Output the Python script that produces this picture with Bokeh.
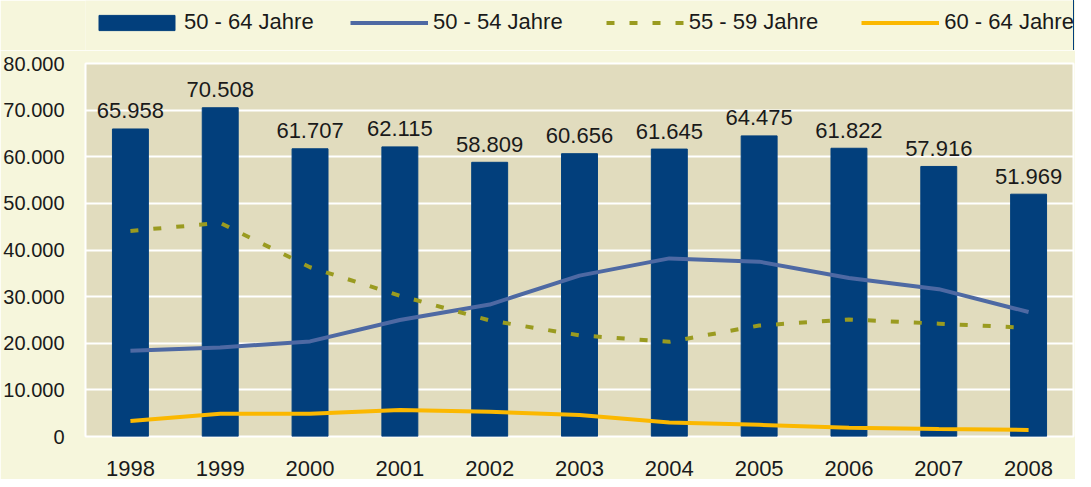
from bokeh.plotting import figure
from bokeh.models import ColumnDataSource, FixedTicker, Legend, LegendItem
from bokeh.layouts import column
from bokeh.embed import file_html
from bokeh.resources import INLINE
from bokeh.core.properties import value

years = [1998, 1999, 2000, 2001, 2002, 2003, 2004, 2005, 2006, 2007, 2008]
total_50_64 = [65958, 70508, 61707, 62115, 58809, 60656, 61645, 64475, 61822, 57916, 51969]
age_50_54 = [18400, 19100, 20400, 25000, 28300, 34500, 38200, 37500, 34000, 31600, 26700]
age_55_59 = [44100, 45800, 36300, 30200, 24900, 21700, 20300, 23800, 25100, 24200, 23300]
age_60_64 = [3300, 4900, 4900, 5700, 5300, 4600, 3000, 2500, 1900, 1600, 1400]
series_names = ["50 - 64 Jahre", "50 - 54 Jahre", "55 - 59 Jahre", "60 - 64 Jahre"]
y_ticks = [0, 10000, 20000, 30000, 40000, 50000, 60000, 70000, 80000]
y_tick_labels = ["0", "10.000", "20.000", "30.000", "40.000", "50.000", "60.000", "70.000", "80.000"]

FONT = "Liberation Sans"
TEXT_COLOR = "#1A1A1A"
PAGE_BG = "#F6F6DC"
PLOT_BG = "#E1DCBE"
BAR_COLOR = "#023F7C"
C_5054 = "#4E69A3"
C_5559 = "#9A9B20"
C_6064 = "#FBB800"

src = ColumnDataSource(dict(
    year=years,
    total=total_50_64,
    a=age_50_54,
    b=age_55_59,
    c=age_60_64,
    label=[f"{v:,}".replace(",", ".") for v in total_50_64],
))


def draw_series(fig):
    r_bar = fig.vbar(x="year", top="total", width=0.4, bottom=0, color=BAR_COLOR, source=src)
    r1 = fig.line("year", "a", source=src, line_color=C_5054, line_width=4)
    r2 = fig.line("year", "b", source=src, line_color=C_5559, line_width=4, line_dash="8 15")
    r3 = fig.line("year", "c", source=src, line_color=C_6064, line_width=4)
    return r_bar, r1, r2, r3


# ---- main chart ----
p = figure(width=1075, height=429, x_range=(1997.5, 2008.5), y_range=(0, 80000),
           output_backend="svg", toolbar_location=None,
           min_border_left=79, min_border_right=2, min_border_top=13, min_border_bottom=43)
p.background_fill_color = PLOT_BG
p.border_fill_color = PAGE_BG
p.outline_line_color = "white"
p.outline_line_width = 2

draw_series(p)

p.text(x="year", y="total", text="label", source=src, text_align="center",
       text_baseline="alphabetic", y_offset=-18, text_font=value(FONT),
       text_font_size="22px", text_color=TEXT_COLOR)

p.xgrid.grid_line_color = None
p.ygrid.grid_line_color = "white"
p.ygrid.grid_line_width = 2
p.yaxis.ticker = FixedTicker(ticks=y_ticks)
p.yaxis.major_label_overrides = {t: s for t, s in zip(y_ticks, y_tick_labels)}
p.xaxis.ticker = FixedTicker(ticks=years)

for ax in (p.xaxis, p.yaxis):
    ax.axis_line_color = None
    ax.major_tick_line_color = None
    ax.minor_tick_line_color = None
    ax.major_label_text_font = FONT
    ax.major_label_text_color = TEXT_COLOR
p.yaxis.major_label_text_font_size = "20px"
p.yaxis.major_label_standoff = 15
p.xaxis.major_label_text_font_size = "22px"
p.xaxis.major_label_standoff = 18

# ---- legend strip (same series, view range kept away from the data) ----
lg = figure(width=1075, height=50, x_range=(0, 1), y_range=(0, 1),
            x_axis_type=None, y_axis_type=None,
            output_backend="svg", toolbar_location=None,
            min_border_left=79, min_border_right=2, min_border_top=0, min_border_bottom=0)
lg.background_fill_color = PAGE_BG
lg.border_fill_color = PAGE_BG
lg.outline_line_color = None
lg.xgrid.visible = False
lg.ygrid.visible = False
b_bar, b1, b2, b3 = draw_series(lg)

common = dict(orientation="horizontal", margin=0, padding=0,
              label_text_font=FONT, label_text_font_size="22px", label_text_color=TEXT_COLOR,
              background_fill_alpha=0, border_line_color=None)
leg_bar = Legend(items=[LegendItem(label=series_names[0], renderers=[b_bar])],
                 location=(4, 15), glyph_width=95, glyph_height=19, label_standoff=-4, **common)
leg_lines = Legend(items=[
    LegendItem(label=series_names[1], renderers=[b1]),
    LegendItem(label=series_names[2], renderers=[b2]),
    LegendItem(label=series_names[3], renderers=[b3]),
], location=(265, 15), glyph_width=78, glyph_height=15, label_standoff=5, spacing=43, **common)
lg.add_layout(leg_bar, "center")
lg.add_layout(leg_lines, "center")

open("out.html", "w").write(file_html(column(lg, p), INLINE))
